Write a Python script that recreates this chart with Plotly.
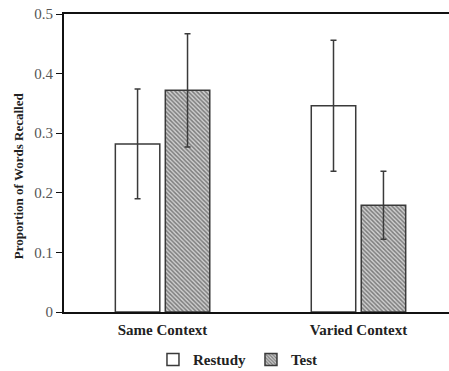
import plotly.graph_objects as go

categories = ["Same Context", "Varied Context"]
restudy = [0.282, 0.346]
restudy_err = [0.092, 0.110]
test = [0.372, 0.179]
test_err = [0.095, 0.057]
y_ticks = [0, 0.1, 0.2, 0.3, 0.4, 0.5]
y_tick_labels = ["0", "0.1", "0.2", "0.3", "0.4", "0.5"]

FONT = "Liberation Serif, Times New Roman, serif"
EDGE = "#3a3a3a"

fig = go.Figure()
fig.add_trace(go.Bar(
    name="Restudy", x=categories, y=restudy,
    marker=dict(color="white", line=dict(color=EDGE, width=1.5)),
    error_y=dict(type="data", array=restudy_err, color=EDGE, thickness=1.5, width=3),
))
fig.add_trace(go.Bar(
    name="Test", x=categories, y=test,
    marker=dict(color="#a0a0a0", line=dict(color=EDGE, width=1.5),
                pattern=dict(shape="\\", fgcolor="#2a2a2a", bgcolor="#cfcfcf",
                             size=3, solidity=0.5)),
    error_y=dict(type="data", array=test_err, color=EDGE, thickness=1.5, width=3),
))

fig.update_layout(
    width=449, height=371,
    margin=dict(l=64, r=0, t=14, b=59, autoexpand=False),
    paper_bgcolor="white", plot_bgcolor="white",
    barmode="group", bargap=0.49, bargroupgap=0.11,
    font=dict(family=FONT, color="#222222"),
    showlegend=True,
    legend=dict(orientation="h", xref="container", yref="container",
                x=0.53, xanchor="center", y=0.03, yanchor="middle",
                font=dict(family=FONT, size=15, color="#222222", weight="bold"),
                itemwidth=30, tracegroupgap=0),
)
fig.update_xaxes(
    range=[-0.503, 1.462], showline=True, linecolor="#111111", linewidth=2,
    mirror=True, ticks="", showgrid=False, automargin=False, ticklabelstandoff=3,
    tickfont=dict(family=FONT, size=15, color="#222222", weight="bold"),
)
fig.update_yaxes(
    range=[0, 0.5], tickvals=y_ticks, ticktext=y_tick_labels,
    showline=True, linecolor="#111111", linewidth=2, ticks="outside", ticklen=6,
    tickcolor="#111111", showgrid=False, zeroline=False, automargin=False,
    tickfont=dict(family=FONT, size=15, color="#555555"),
)
fig.add_annotation(
    text="<b>Proportion of Words Recalled</b>", textangle=-90,
    xref="paper", yref="paper", x=-0.119, y=0.456, xanchor="center", yanchor="middle",
    showarrow=False, font=dict(family=FONT, size=13, color="#222222"),
)
fig.write_html("out.html", config={"displayModeBar": False},
               post_script="document.body.style.margin='0';document.body.style.overflow='hidden';")
